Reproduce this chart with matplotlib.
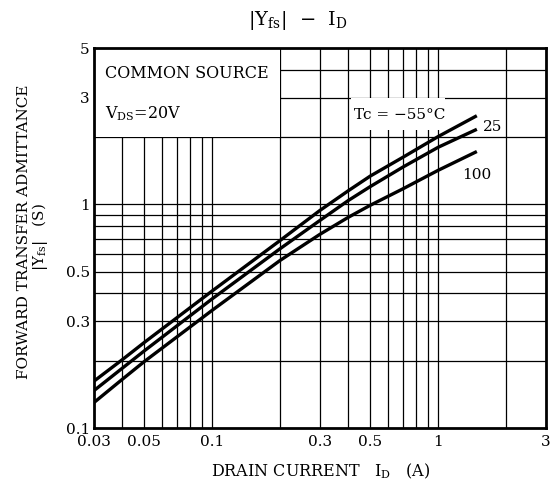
import matplotlib.pyplot as plt
from matplotlib.patches import Rectangle
from matplotlib.ticker import FixedLocator, NullFormatter, NullLocator

plt.rcParams['font.family'] = 'DejaVu Serif'
plt.rcParams['mathtext.fontset'] = 'dejavuserif'

# drain current (A) and |Yfs| (S)
id_a = [0.03, 0.04, 0.05, 0.1, 0.2, 0.3, 0.4, 0.5, 0.7, 1.0, 1.46]
yfs_m55 = [0.162, 0.202, 0.241, 0.41, 0.69, 0.94, 1.15, 1.337, 1.626, 2.01, 2.47]
yfs_25 = [0.147, 0.185, 0.221, 0.378, 0.634, 0.848, 1.04, 1.20, 1.47, 1.80, 2.15]
yfs_100 = [0.130, 0.165, 0.198, 0.336, 0.562, 0.735, 0.875, 0.99, 1.175, 1.42, 1.71]

x_ticks = [0.03, 0.05, 0.1, 0.3, 0.5, 1, 3]
x_ticklabels = ['0.03', '0.05', '0.1', '0.3', '0.5', '1', '3']
y_ticks = [0.1, 0.3, 0.5, 1, 3, 5]
y_ticklabels = ['0.1', '0.3', '0.5', '1', '3', '5']
x_grid = [0.04, 0.05, 0.06, 0.07, 0.08, 0.09, 0.1, 0.2, 0.3, 0.4, 0.5,
          0.6, 0.7, 0.8, 0.9, 1, 2]
y_grid = [0.2, 0.3, 0.4, 0.5, 0.6, 0.7, 0.8, 0.9, 1, 2, 3, 4]

fig = plt.figure(figsize=(5.51, 4.94), dpi=100)
ax = fig.add_axes([0.1706, 0.1336, 0.8204, 0.7692])
ax.set_xscale('log')
ax.set_yscale('log')
ax.set_xlim(0.03, 3)
ax.set_ylim(0.1, 5)

for gx in x_grid:
    ax.axvline(gx, color='black', lw=0.9, zorder=1)
for gy in y_grid:
    ax.axhline(gy, color='black', lw=0.9, zorder=1)

# blank areas behind the annotations
ax.add_patch(Rectangle((0.03, 2), 0.17, 3, facecolor='white',
                       edgecolor='none', zorder=2))
ax.add_patch(Rectangle((0.41, 2.15), 0.66, 0.85, facecolor='white',
                       edgecolor='none', zorder=2))

ax.plot(id_a, yfs_m55, color='black', lw=2.4, zorder=4)
ax.plot(id_a, yfs_25, color='black', lw=2.4, zorder=4)
ax.plot(id_a, yfs_100, color='black', lw=2.4, zorder=4)

ax.text(0.0335, 3.85, 'COMMON SOURCE', fontsize=11.5, va='center', zorder=5)
ax.text(0.0335, 2.55, r'V$_{\mathrm{DS}}$=20V', fontsize=11.5, va='center', zorder=5)
ax.text(0.425, 2.5, 'Tc = −55°C', fontsize=11, va='center', zorder=5)
ax.text(1.58, 2.22, '25', fontsize=11, va='center', zorder=5,
        bbox=dict(facecolor='white', edgecolor='none', pad=1.5))
ax.text(1.27, 1.35, '100', fontsize=11, va='center', zorder=5)

ax.xaxis.set_major_locator(FixedLocator(x_ticks))
ax.set_xticklabels(x_ticklabels)
ax.xaxis.set_minor_locator(NullLocator())
ax.xaxis.set_minor_formatter(NullFormatter())
ax.yaxis.set_major_locator(FixedLocator(y_ticks))
ax.set_yticklabels(y_ticklabels)
ax.yaxis.set_minor_locator(NullLocator())
ax.yaxis.set_minor_formatter(NullFormatter())
ax.tick_params(length=0, labelsize=11)
ax.tick_params(axis='x', pad=5)
ax.tick_params(axis='y', pad=3)
ax.get_yticklabels()[0].set_va('center_baseline')

for sp in ax.spines.values():
    sp.set_linewidth(2)
    sp.set_zorder(6)

fig.text(0.541, 0.958, r'$|\mathrm{Y_{fs}}|$  −  I$_{\mathrm{D}}$', fontsize=14,
         ha='center', va='center')
fig.text(0.582, 0.045, r'DRAIN CURRENT   I$_{\mathrm{D}}$   (A)', fontsize=11.5,
         ha='center', va='center')
fig.text(0.043, 0.53, 'FORWARD TRANSFER ADMITTANCE', fontsize=11,
         rotation=90, ha='center', va='center')
fig.text(0.073, 0.52, r'$|\mathrm{Y_{fs}}|$   (S)', fontsize=11,
         rotation=90, ha='center', va='center')

fig.savefig('out.png', dpi=100)
